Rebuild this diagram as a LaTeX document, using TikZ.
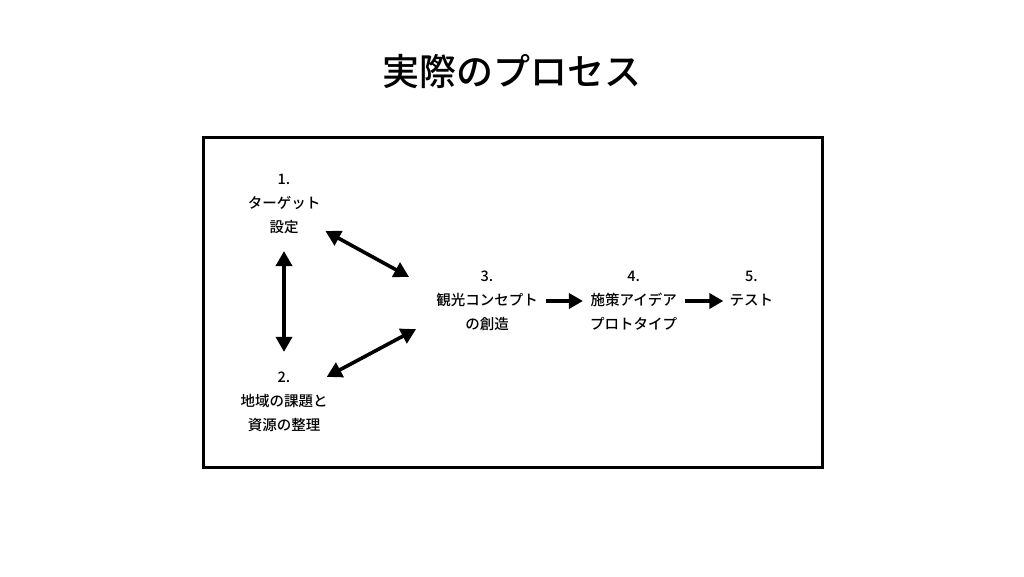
\documentclass[tikz,border=0pt]{standalone}
\usepackage{fontspec}
\setmainfont{Noto Sans CJK JP}[UprightFont=* Medium,BoldFont=* Medium]
\usepackage{tikz}
\usetikzlibrary{arrows.meta,positioning,calc}

\begin{document}
\begin{tikzpicture}[
    x=1pt,y=-1pt,
    node distance=52pt,
    stage/.style={align=center,inner sep=0pt,
                font=\fontsize{14.5}{24}\selectfont},
    arr/.style={-{Triangle[length=14pt,width=15pt]},line width=3.6pt,black},
    dblarr/.style={{Triangle[length=15pt,width=16pt]}-{Triangle[length=15pt,width=16pt]},
                line width=3.6pt,black}
  ]
    \useasboundingbox (0,0) rectangle (1024,576);
    \node[font=\fontsize{37}{40}\selectfont] (title) at (512,72) {実際のプロセス};
    \draw[line width=3pt] (203,137) rectangle (822,467);
    \node[stage] (s1) at (284,204) {1.\\ターゲット\\設定};
    \node[stage] (s2) at (284,402) {2.\\地域の課題と\\資源の整理};
    \node[stage] (s3) at (487,301) {3.\\観光コンセプト\\の創造};
    \node[stage,right=of s3] (s4) {4.\\施策アイデア\\プロトタイプ};
    \node[stage,right=of s4,yshift=12pt] (s5) {5.\\テスト};
    \draw[dblarr,shorten <=17pt,shorten >=20pt] (s1.south) -- (s2.north);
    \draw[dblarr] ([shift={(5,-3)}]s1.south east) -- ([shift={(-27,6)}]s3.north west);
    \draw[dblarr] ([shift={(-1,5)}]s2.north east) -- ([shift={(-20,-2)}]s3.south west);
    \draw[arr,shorten <=8pt,shorten >=7pt] (s3.east) -- (s4.west);
    \draw[arr,shorten <=8pt,shorten >=6pt] (s4.east) -- (s4.east -| s5.west);
  \end{tikzpicture}
\end{document}
